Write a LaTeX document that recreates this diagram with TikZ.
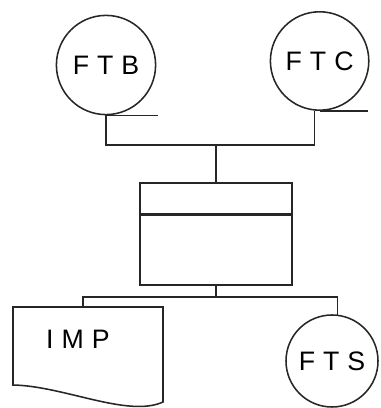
\documentclass[tikz,border=0pt]{standalone}
\usepackage{fontspec}
\newfontfamily\handfont[LetterSpace=30]{Liberation Sans}
\usepackage{tikz}

\begin{document}
\begin{tikzpicture}[font=\handfont\fontsize{19}{21}\selectfont,x=1cm,y=1cm,
    line width=1.1pt,draw=black!85,
    tape/.style={circle,draw,inner sep=0pt},
    prog/.style={rectangle,draw,inner sep=0pt}]
    \useasboundingbox (0,0) rectangle (9.5,10.2);

    \node[tape,minimum size=2.48cm] (ftb) at (2.65,8.575) {FTB};
    \node[tape,minimum size=2.46cm] (ftc) at (7.99,8.675) {FTC};
    \draw (ftb.south) -- ++(1.3,0);
    \draw (ftc.south) -- ++(1.2,0);

    \node[prog,minimum width=3.8cm,minimum height=2.55cm] (sort) at (5.4,4.35) {};
    \draw[line width=2.4pt] ([yshift=-0.8cm]sort.north west)
        -- ([yshift=-0.8cm]sort.north east);

    \coordinate (jtop) at (5.4,6.575);
    \draw (ftb.south) |- (jtop) -| (ftc.264);
    \draw (jtop) -- (sort.north);

    \draw (0.325,2.525) -- (4.075,2.525) -- (4.075,0.15)
        .. controls (3.2,-0.25) and (1.6,0.55) .. (0.325,0.575) -- cycle;
    \node (imp) at (1.95,1.725) {IMP};
    \coordinate (imptop) at (2.075,2.525);

    \node[tape,minimum size=2.3cm] (fts) at (8.3,1.175) {FTS};

    \coordinate (jbot) at (5.4,2.775);
    \draw (sort.south) -- (jbot);
    \draw (imptop) |- (jbot) -| (fts.83);
\end{tikzpicture}
\end{document}
